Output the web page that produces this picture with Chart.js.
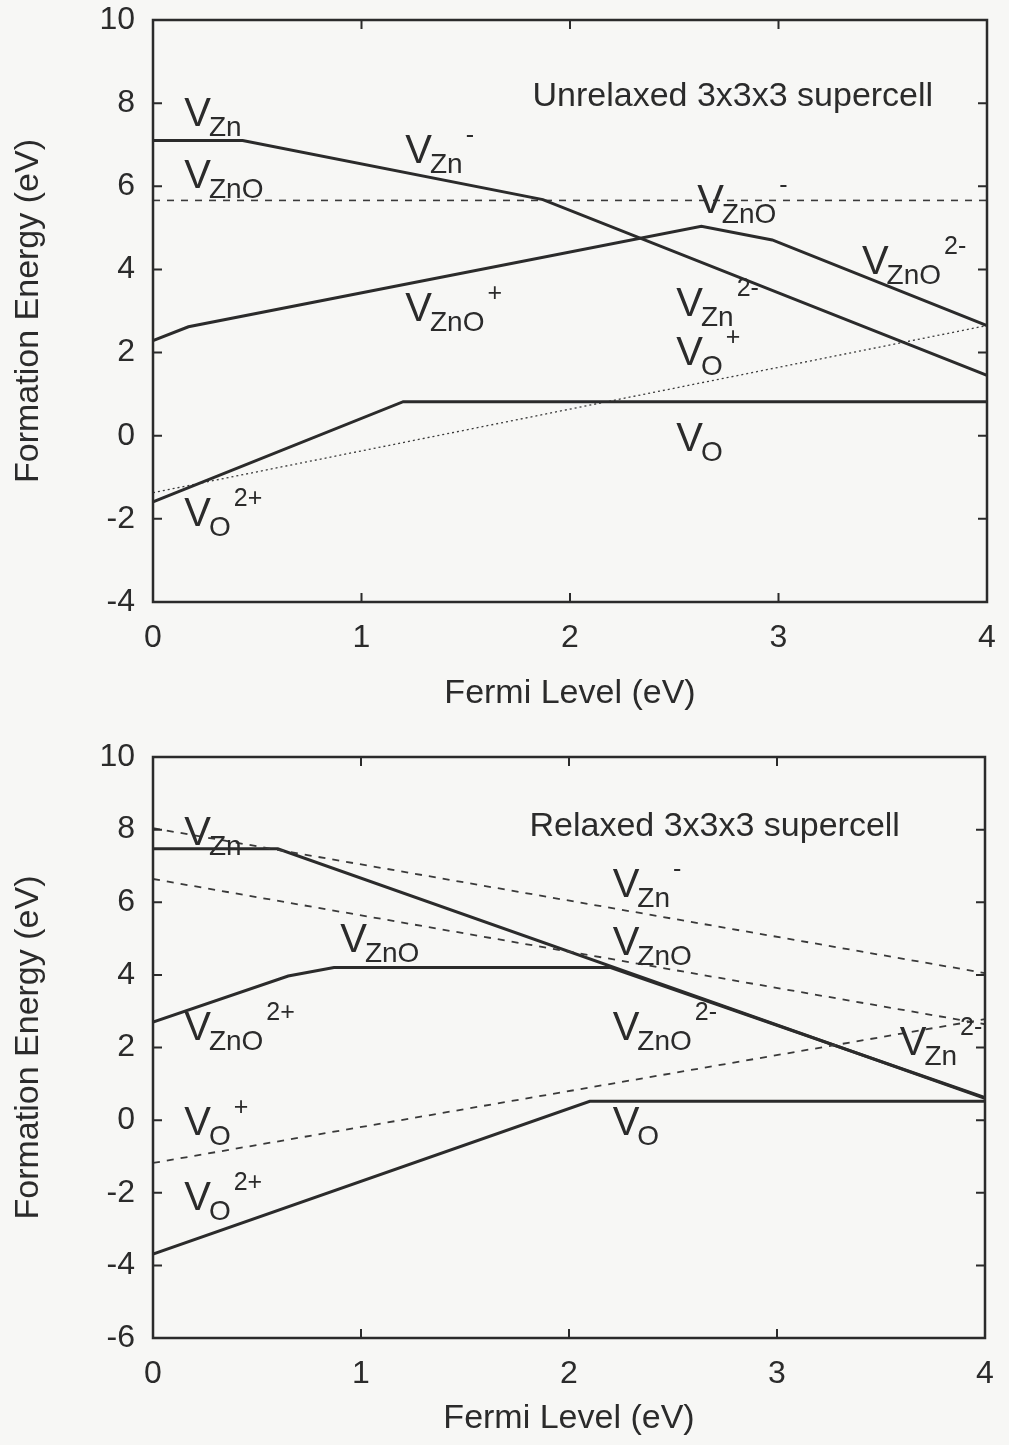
<!DOCTYPE html>
<html>
<head>
<meta charset="utf-8">
<script src="https://cdn.jsdelivr.net/npm/chart.js@4.4.1/dist/chart.umd.min.js"></script>
<style>
  html, body { margin: 0; padding: 0; background: #f7f7f5; }
  #wrap { position: relative; width: 1009px; height: 1445px; overflow: hidden; }
  .panel { position: absolute; left: 0; width: 1009px; }
</style>
</head>
<body>
<div id="wrap">
  <div class="panel" style="top:0px;height:720px"><canvas id="topChart" width="1009" height="720"></canvas></div>
  <div class="panel" style="top:720px;height:725px"><canvas id="bottomChart" width="1009" height="725"></canvas></div>
</div>
<script>
// tick values
const xTicks = [0, 1, 2, 3, 4];
const topYTicks = [-4, -2, 0, 2, 4, 6, 8, 10];
const bottomYTicks = [-6, -4, -2, 0, 2, 4, 6, 8, 10];

// unrelaxed supercell (top panel)
const unrelZnX = [0, 0.43, 1.87, 4];
const unrelZnY = [7.1, 7.1, 5.68, 1.45];
const unrelZnOX = [0, 0.17, 2.63, 2.97, 4];
const unrelZnOY = [2.29, 2.62, 5.04, 4.71, 2.65];
const unrelZnONeutX = [0, 4];
const unrelZnONeutY = [5.66, 5.66];
const unrelOX = [0, 1.2, 4];
const unrelOY = [-1.59, 0.82, 0.82];
const unrelOPlusX = [0, 4];
const unrelOPlusY = [-1.37, 2.65];

// relaxed supercell (bottom panel)
const relZnX = [0, 0.6, 4];
const relZnY = [7.47, 7.47, 0.6];
const relZnMinusX = [0, 4];
const relZnMinusY = [8.04, 4.05];
const relZnOMinusX = [0, 4];
const relZnOMinusY = [6.64, 2.64];
const relZnOX = [0, 0.65, 0.87, 2.2, 4];
const relZnOY = [2.7, 3.97, 4.2, 4.2, 0.62];
const relOPlusX = [0, 4];
const relOPlusY = [-1.18, 2.78];
const relOX = [0, 2.1, 4];
const relOY = [-3.69, 0.52, 0.52];

// defect labels: [x, y, subscript, superscript]
const topLabels = [
  [0.15, 7.45, 'Zn', ''],
  [1.21, 6.55, 'Zn', '-'],
  [0.15, 5.95, 'ZnO', ''],
  [2.61, 5.35, 'ZnO', '-'],
  [3.40, 3.90, 'ZnO', '2-'],
  [1.21, 2.77, 'ZnO', '+'],
  [2.51, 2.87, 'Zn', '2-'],
  [2.51, 1.69, 'O', '+'],
  [2.51, -0.36, 'O', ''],
  [0.15, -2.17, 'O', '2+']
];
const bottomLabels = [
  [0.15, 7.58, 'Zn', ''],
  [2.21, 6.14, 'Zn', '-'],
  [0.90, 4.63, 'ZnO', ''],
  [2.21, 4.55, 'ZnO', ''],
  [0.15, 2.20, 'ZnO', '2+'],
  [2.21, 2.20, 'ZnO', '2-'],
  [3.59, 1.79, 'Zn', '2-'],
  [0.15, -0.41, 'O', '+'],
  [2.21, -0.41, 'O', ''],
  [0.15, -2.48, 'O', '2+']
];

const FONT = '"Liberation Sans", Arial, Helvetica, sans-serif';
const INK = '#2b2b2b';

function pts(xs, ys) {
  return xs.map((x, i) => ({ x: x, y: ys[i] }));
}

function solid(xs, ys) {
  return { data: pts(xs, ys), borderColor: INK, borderWidth: 3, pointRadius: 0, showLine: true, fill: false, tension: 0 };
}

function dashed(xs, ys, dash, w) {
  return { data: pts(xs, ys), borderColor: '#3a3a3a', borderWidth: w, borderDash: dash, pointRadius: 0, showLine: true, fill: false, tension: 0 };
}

// frame, inward ticks on all four sides, and the text labels
const decorPlugin = {
  id: 'decor',
  afterDatasetsDraw(chart, args, opts) {
    const ctx = chart.ctx;
    const a = chart.chartArea;
    const xs = chart.scales.x, ys = chart.scales.y;
    ctx.save();
    ctx.strokeStyle = INK;
    ctx.lineWidth = 2.5;
    ctx.strokeRect(a.left, a.top, a.right - a.left, a.bottom - a.top);
    ctx.lineWidth = 2;
    const tl = 9;
    ctx.beginPath();
    xTicks.forEach(v => {
      const p = xs.getPixelForValue(v);
      ctx.moveTo(p, a.bottom); ctx.lineTo(p, a.bottom - tl);
      ctx.moveTo(p, a.top); ctx.lineTo(p, a.top + tl);
    });
    opts.yTicks.forEach(v => {
      const p = ys.getPixelForValue(v);
      ctx.moveTo(a.left, p); ctx.lineTo(a.left + tl, p);
      ctx.moveTo(a.right, p); ctx.lineTo(a.right - tl, p);
    });
    ctx.stroke();

    ctx.fillStyle = INK;
    ctx.textBaseline = 'alphabetic';
    ctx.textAlign = 'left';
    ctx.font = '34px ' + FONT;
    ctx.fillText(opts.title[2], xs.getPixelForValue(opts.title[0]), ys.getPixelForValue(opts.title[1]));

    opts.labels.forEach(l => {
      const px = xs.getPixelForValue(l[0]);
      const py = ys.getPixelForValue(l[1]);
      ctx.font = '40px ' + FONT;
      ctx.fillText('V', px, py);
      const w = ctx.measureText('V').width;
      ctx.font = '28px ' + FONT;
      ctx.fillText(l[2], px + w - 2, py + 10);
      const sw = ctx.measureText(l[2]).width;
      if (l[3]) {
        ctx.font = '25px ' + FONT;
        ctx.fillText(l[3], px + w + sw + 1, py - 20);
      }
    });
    ctx.restore();
  }
};

function makeChart(id, datasets, yMin, yMax, yTicks, labels, title, pad, xHeight) {
  return new Chart(document.getElementById(id), {
    type: 'scatter',
    data: { datasets: datasets },
    plugins: [decorPlugin],
    options: {
      responsive: false,
      animation: false,
      devicePixelRatio: 1,
      layout: { padding: pad },
      plugins: {
        legend: { display: false },
        tooltip: { enabled: false },
        decor: { yTicks: yTicks, labels: labels, title: title }
      },
      scales: {
        x: {
          type: 'linear', min: 0, max: 4,
          afterBuildTicks: s => { s.ticks = xTicks.map(v => ({ value: v })); },
          afterFit: s => { s.height = xHeight; s.paddingLeft = 0; s.paddingRight = 0; },
          grid: { display: false, drawTicks: false },
          border: { display: false },
          ticks: { color: INK, padding: 17, font: { family: FONT, size: 32 } },
          title: { display: true, text: 'Fermi Level (eV)', color: INK, padding: { top: 0, bottom: 6 }, font: { family: FONT, size: 34 } }
        },
        y: {
          type: 'linear', min: yMin, max: yMax,
          afterBuildTicks: s => { s.ticks = yTicks.map(v => ({ value: v })); },
          afterFit: s => { s.width = 153; s.paddingTop = 0; s.paddingBottom = 0; },
          grid: { display: false, drawTicks: false },
          border: { display: false },
          ticks: { color: INK, padding: 18, font: { family: FONT, size: 32 } },
          title: { display: true, text: 'Formation Energy (eV)', color: INK, padding: { top: 8, bottom: 0 }, font: { family: FONT, size: 34 } }
        }
      }
    }
  });
}

makeChart('topChart', [
  solid(unrelZnX, unrelZnY),
  solid(unrelZnOX, unrelZnOY),
  dashed(unrelZnONeutX, unrelZnONeutY, [7, 7], 1.6),
  solid(unrelOX, unrelOY),
  dashed(unrelOPlusX, unrelOPlusY, [2, 3], 1.3)
], -4, 10, topYTicks, topLabels, [1.82, 7.93, 'Unrelaxed 3x3x3 supercell'],
  { top: 20, right: 22, left: 0, bottom: 0 }, 118);

makeChart('bottomChart', [
  dashed(relZnMinusX, relZnMinusY, [7, 7], 1.8),
  dashed(relZnOMinusX, relZnOMinusY, [7, 7], 1.8),
  dashed(relOPlusX, relOPlusY, [7, 7], 1.8),
  solid(relZnX, relZnY),
  solid(relZnOX, relZnOY),
  solid(relOX, relOY)
], -6, 10, bottomYTicks, bottomLabels, [1.81, 7.82, 'Relaxed 3x3x3 supercell'],
  { top: 37, right: 24, left: 0, bottom: 0 }, 107);
</script>
</body>
</html>
